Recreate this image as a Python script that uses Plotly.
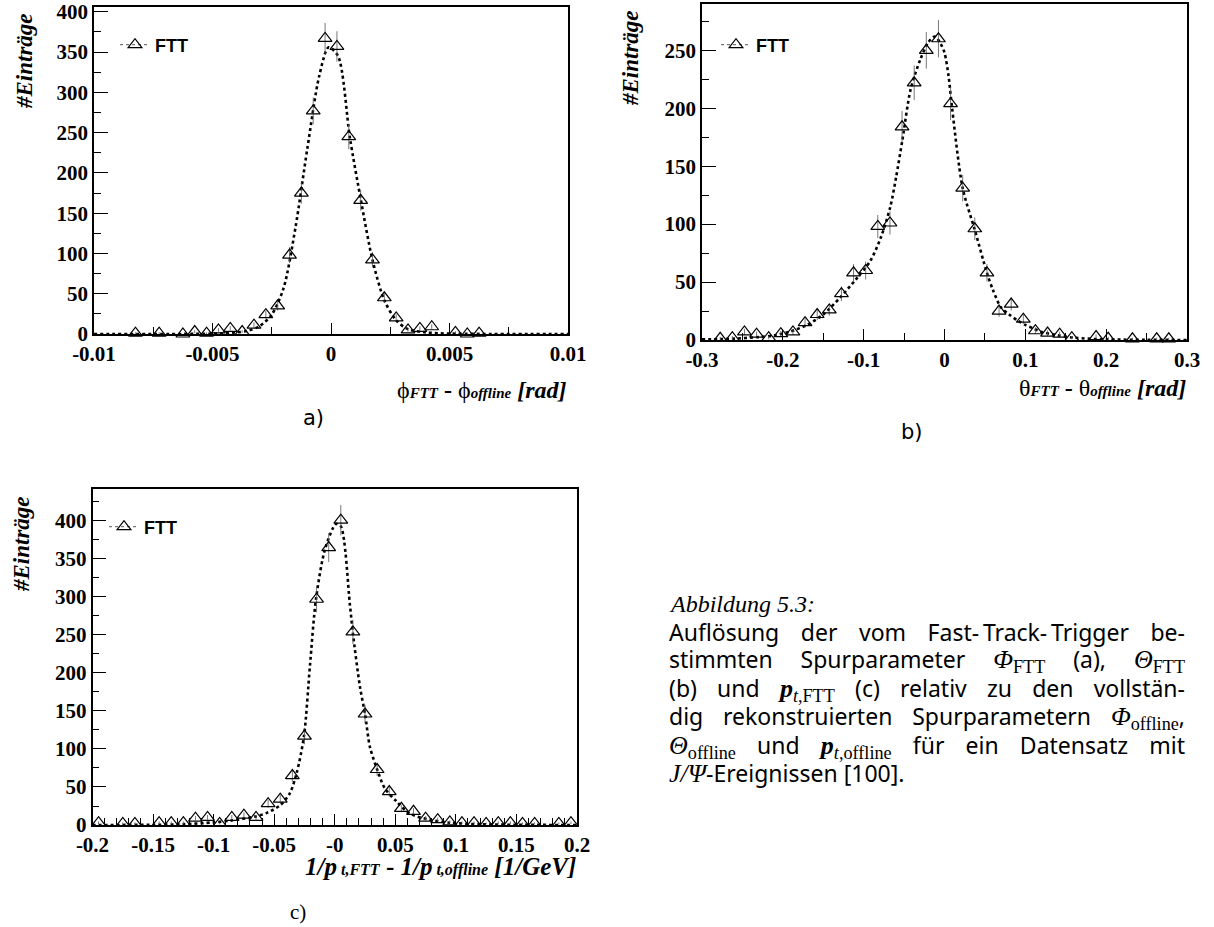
import numpy as np
import plotly.graph_objects as go

W, H = 1214, 927

# ---------------- data: panel a (phi) ----------------
a_x = [-0.00825, -0.00725, -0.00625, -0.00575, -0.00525, -0.00475, -0.00425, -0.00375,
       -0.00325, -0.00275, -0.00225, -0.00175, -0.00125, -0.00075, -0.00025, 0.00025,
       0.00075, 0.00125, 0.00175, 0.00225, 0.00275, 0.00325, 0.00375, 0.00425,
       0.00525, 0.00575, 0.00625]
a_y = [1, 1, 0, 3, 1, 5, 7, 3, 11, 24, 35, 98, 175, 277, 367, 357,
       245, 166, 92, 45, 20, 5, 7, 9, 2, 0, 1]
a_fit_x = [-0.01, -0.005, -0.004, -0.0035, -0.003, -0.0025, -0.002, -0.0015, -0.001,
           -0.0005, -0.0001, 0.0003, 0.0008, 0.00125, 0.00175, 0.00225, 0.00275,
           0.00325, 0.004, 0.005, 0.01]
a_fit_y = [0, 0.5, 2, 4, 10, 24, 57, 132, 230, 320, 356, 345, 243, 168, 92, 42, 17,
           6, 2, 0.5, 0]
a_tickvals = [-0.01, -0.005, 0, 0.005, 0.01]
a_ticktext = ["-0.01", "-0.005", "0", "0.005", "0.01"]

# ---------------- data: panel b (theta) ----------------
b_x = [-0.2775, -0.2625, -0.2475, -0.2325, -0.2175, -0.2025, -0.1875, -0.1725, -0.1575,
       -0.1425, -0.1275, -0.1125, -0.0975, -0.0825, -0.0675, -0.0525, -0.0375, -0.0225,
       -0.0075, 0.0075, 0.0225, 0.0375, 0.0525, 0.0675, 0.0825, 0.0975, 0.1125, 0.1275,
       0.1425, 0.1575, 0.1875, 0.2025, 0.2325, 0.2625, 0.2775]
b_y = [1.5, 2, 7, 5, 2, 5.5, 7, 15, 22, 26, 40, 58, 60, 98, 101, 184, 222, 250,
       260, 204, 131, 96, 58, 25, 31, 18, 8, 6, 5, 2, 3, 1.5, 1, 1, 1]
b_fit_x = [-0.3, -0.26, -0.23, -0.21, -0.19, -0.17, -0.15, -0.13, -0.11, -0.092, -0.079,
           -0.067, -0.06, -0.052, -0.042, -0.03, -0.02, -0.012, -0.005, 0.0, 0.005,
           0.0083, 0.0225, 0.0375, 0.0525, 0.06, 0.07, 0.08, 0.09, 0.1, 0.11, 0.12,
           0.14, 0.16, 0.2, 0.25, 0.3]
b_fit_y = [0.5, 1.2, 2.5, 4, 7.5, 13, 22, 36, 52, 68, 88, 115, 140, 173, 216, 242, 257,
           262, 256, 248, 228, 207, 131, 95, 58, 43, 28, 22, 17, 13, 10, 7, 4, 2, 0.5,
           0.2, 0]
b_tickvals = [-0.3, -0.2, -0.1, 0, 0.1, 0.2, 0.3]
b_ticktext = ["-0.3", "-0.2", "-0.1", "0", "0.1", "0.2", "0.3"]

# ---------------- data: panel c (1/pt) ----------------
c_x = [-0.195, -0.175, -0.165, -0.145, -0.135, -0.125, -0.115, -0.105, -0.095, -0.085,
       -0.075, -0.065, -0.055, -0.045, -0.035, -0.025, -0.015, -0.005, 0.005, 0.015,
       0.025, 0.035, 0.045, 0.055, 0.065, 0.075, 0.085, 0.095, 0.105, 0.115, 0.125,
       0.135, 0.145, 0.155, 0.165, 0.185, 0.195]
c_y = [3, 2, 2, 3, 3, 3, 9, 10, 2, 10, 13, 10, 28, 34, 65, 117, 297, 365, 401, 254,
       146, 73, 44, 22, 18, 9, 7, 4, 3, 3, 2, 3, 3, 2, 2, 2, 3]
c_fit_x = [-0.2, -0.15, -0.125, -0.1, -0.085, -0.066, -0.056, -0.045, -0.037, -0.0315,
           -0.0254, -0.0205, -0.0155, -0.008, 0.001, 0.005, 0.0125, 0.015, 0.0208, 0.025,
           0.029, 0.035, 0.0414, 0.051, 0.062, 0.0785, 0.095, 0.12, 0.15, 0.2]
c_fit_y = [0, 0.3, 1, 3.5, 6, 11, 16, 26, 42, 68, 117, 209, 297, 363, 396, 393, 290,
           252, 182, 146, 103, 73, 48, 31, 15, 7, 3, 1, 0.3, 0]
c_tickvals = [-0.2, -0.15, -0.1, -0.05, 0, 0.05, 0.1, 0.15, 0.2]
c_ticktext = ["-0.2", "-0.15", "-0.1", "-0.05", "-0", "0.05", "0.1", "0.15", "0.2"]

legend_label = "FTT"

# ---------------- figure ----------------
fig = go.Figure()

panels = [
    ("x", "y", "legend", a_x, a_y, a_fit_x, a_fit_y),
    ("x2", "y2", "legend2", b_x, b_y, b_fit_x, b_fit_y),
    ("x3", "y3", "legend3", c_x, c_y, c_fit_x, c_fit_y),
]

for xa, ya, lg, px_, py_, fx, fy in panels:
    fig.add_trace(go.Scatter(
        x=fx, y=fy, xaxis=xa, yaxis=ya, mode="lines",
        line=dict(color="black", width=2.6, dash="3px,3px", shape="spline", smoothing=0.8),
        showlegend=False, hoverinfo="skip"))
    fig.add_trace(go.Scatter(
        x=px_, y=py_, xaxis=xa, yaxis=ya, mode="markers",
        marker=dict(symbol="triangle-up-open", size=12, color="black",
                    line=dict(color="black", width=1.2)),
        error_y=dict(type="data", array=np.sqrt(np.array(py_, dtype=float)),
                     color="#555555", thickness=0.8, width=0),
        cliponaxis=False, showlegend=False))
    # legend entry
    fig.add_trace(go.Scatter(
        x=[None], y=[None], xaxis=xa, yaxis=ya, mode="lines+markers",
        name=legend_label, legend=lg,
        line=dict(color="#555555", width=1, dash="dot"),
        marker=dict(symbol="triangle-up-open", size=12, color="black",
                    line=dict(color="black", width=1.2)),
        showlegend=True))


def fx_(p):
    return p / W


def fy_(p):
    return 1 - p / H


tickfont = dict(family="Liberation Serif", size=21, color="black", weight="bold")


def xaxis(l, r, tv, tt, minor_dtick, rng, anchor):
    return dict(domain=[fx_(l), fx_(r)], range=rng, anchor=anchor, automargin=False,
                showline=True, mirror=True, linecolor="black", linewidth=1.5,
                ticks="inside", ticklen=11, tickwidth=1.2, tickcolor="black",
                tickmode="array", tickvals=tv, ticktext=tt,
                minor=dict(ticks="inside", ticklen=7, tickwidth=1, tickcolor="black",
                           tickmode="linear", tick0=0, dtick=minor_dtick),
                showgrid=False, zeroline=False, tickfont=tickfont, fixedrange=True)


def yaxis(top, bot, rng, anchor):
    return dict(domain=[fy_(bot), fy_(top)], range=rng, anchor=anchor, automargin=False,
                showline=True, mirror=True, linecolor="black", linewidth=1.5,
                ticks="inside", ticklen=14, tickwidth=1.2, tickcolor="black",
                tickmode="linear", tick0=0, dtick=50,
                minor=dict(ticks="inside", ticklen=7, tickwidth=1, tickcolor="black",
                           tickmode="linear", tick0=0, dtick=25),
                showgrid=False, zeroline=False, tickfont=tickfont, fixedrange=True)


legend_common = dict(font=dict(family="Liberation Sans", size=18, color="black", weight="bold"),
                     bgcolor="rgba(0,0,0,0)", borderwidth=0, xanchor="left", yanchor="middle",
                     itemwidth=30, tracegroupgap=0)

fig.update_layout(
    width=W, height=H, margin=dict(l=0, r=0, t=0, b=0, autoexpand=False),
    paper_bgcolor="white", plot_bgcolor="white",
    xaxis=xaxis(94, 568, a_tickvals, a_ticktext, 0.0025, [-0.01, 0.01], "y"),
    yaxis=yaxis(7, 334, [0, 406], "x"),
    xaxis2=xaxis(702, 1187, b_tickvals, b_ticktext, 0.05, [-0.3, 0.3], "y2"),
    yaxis2=yaxis(4, 340, [0, 290], "x2"),
    xaxis3=xaxis(92.5, 577, c_tickvals, c_ticktext, 0.01, [-0.2, 0.2], "y3"),
    yaxis3=yaxis(489, 825, [0, 442], "x3"),
    legend=dict(x=fx_(115), y=fy_(45), **legend_common),
    legend2=dict(x=fx_(716), y=fy_(45), **legend_common),
    legend3=dict(x=fx_(104), y=fy_(527), **legend_common),
    showlegend=True,
)

ann = []
ytitle = "<b><i>#Einträge</i></b>"
for xc, yc in [(24, 61), (631, 58), (21, 544)]:
    ann.append(dict(x=fx_(xc), y=fy_(yc), xref="paper", yref="paper", text=ytitle,
                    textangle=-90, showarrow=False, xanchor="center", yanchor="middle",
                    font=dict(family="Liberation Serif", size=23, color="black")))

small = "font-size:15px"
a_title = ("ϕ<span style='%s'><b><i>FTT</i></b></span> <b>-</b> ϕ<span style='%s'><b><i>offline</i></b></span>"
           " <b><i>[rad]</i></b>") % (small, small)
b_title = ("θ<span style='%s'><b><i>FTT</i></b></span> <b>-</b> θ<span style='%s'><b><i>offline</i></b></span>"
           " <b><i>[rad]</i></b>") % (small, small)
csmall = "font-size:16px"
c_title = ("<b><i>1/p</i></b><span style='%s'><b><i> t,FTT</i></b></span> <b>-</b> "
           "<b><i>1/p</i></b><span style='%s'><b><i> t,offline</i></b></span> <b><i>[1/GeV]</i></b>") % (csmall, csmall)
for txt, xr, yc, sz in [(a_title, 569, 390, 24), (b_title, 1188, 388, 24), (c_title, 578, 866, 25)]:
    ann.append(dict(x=fx_(xr), y=fy_(yc), xref="paper", yref="paper", text=txt,
                    showarrow=False, xanchor="right", yanchor="middle",
                    font=dict(family="Liberation Serif", size=sz, color="black")))

for txt, xc, yc, fam in [("a)", 313, 418, "DejaVu Sans"), ("b)", 912, 432, "DejaVu Sans"),
                         ("c)", 298, 912, "Liberation Serif")]:
    ann.append(dict(x=fx_(xc), y=fy_(yc), xref="paper", yref="paper", text=txt,
                    showarrow=False, xanchor="center", yanchor="middle",
                    font=dict(family=fam, size=21, color="black")))

# caption
ann.append(dict(x=fx_(667), y=fy_(604), xref="paper", yref="paper",
                text="<i>Abbildung 5.3:</i>", showarrow=False, xanchor="left", yanchor="middle",
                align="left",
                font=dict(family="Liberation Serif", size=24, color="black")))

S = "<span style='font-family:Liberation Serif;font-size:26px'>"
E = "</span>"
cap_lines = [
    "Auflösung der vom Fast-\u2009Track-\u2009Trigger be-",
    "stimmten Spurparameter " + S + "<i>Φ</i><sub>FTT</sub>" + E + " (a), " + S + "<i>Θ</i><sub>FTT</sub>" + E,
    "(b) und " + S + "<b><i>p</i></b><sub><i>t</i>,FTT</sub>" + E + " (c) relativ zu den vollstän-",
    "dig rekonstruierten Spurparametern " + S + "<i>Φ</i><sub>offline</sub>" + E + ",",
    S + "<i>Θ</i><sub>offline</sub>" + E + " und " + S + "<b><i>p</i></b><sub><i>t</i>,offline</sub>" + E + " für ein Datensatz mit",
    S + "<i>J/Ψ</i>" + E + "-Ereignissen [100].",
]
cap_y = [632, 660, 689, 717, 746, 773]
first_cap = len(ann)
for txt, yc in zip(cap_lines, cap_y):
    ann.append(dict(x=fx_(667), y=fy_(yc), xref="paper", yref="paper", text=txt,
                    showarrow=False, xanchor="left", yanchor="middle", align="left",
                    font=dict(family="Noto Sans", size=23, color="black")))
justify_idx = list(range(first_cap, first_cap + len(cap_lines) - 1))

fig.update_layout(annotations=ann)

js = """
document.body.style.margin='0';
document.body.style.overflow='hidden';
var gd=document.getElementById('{plot_id}');
var idx=%s;
var target=516;
gd.querySelectorAll('g.annotation').forEach(function(g){
  var i=parseInt(g.getAttribute('data-index'));
  if(idx.indexOf(i)<0) return;
  var t=g.querySelector('text.annotation-text');
  if(!t) return;
  var w=t.getBBox().width;
  var n=(t.textContent.match(/ /g)||[]).length;
  if(n>0 && w<target){ t.style.wordSpacing=((target-w)/n)+'px'; }
});
""" % str(justify_idx)

fig.write_html("out.html", config={"displayModeBar": False, "responsive": False},
               post_script=js)
